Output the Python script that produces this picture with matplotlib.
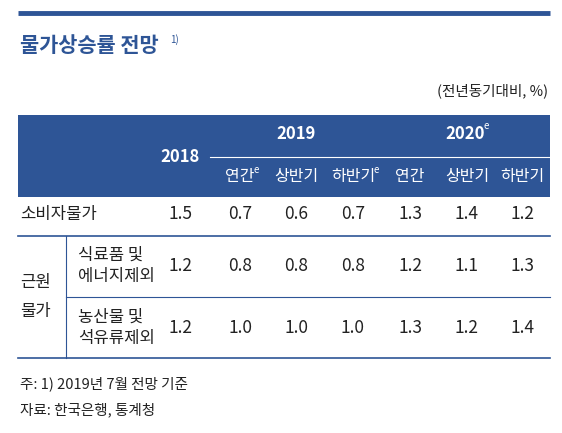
import matplotlib
matplotlib.use("Agg")
import matplotlib.pyplot as plt

plt.rcParams['font.family'] = ['Noto Sans CJK KR', 'DejaVu Sans']

title = "물가상승률 전망"
unit = "(전년동기대비, %)"
years = ["2018", "2019", "2020"]
sub_headers = ["연간", "상반기", "하반기", "연간", "상반기", "하반기"]
sub_est = [True, False, True, False, False, False]
row_labels = ["소비자물가", "식료품 및\n에너지제외", "농산물 및\n석유류제외"]
group_label = "근원\n물가"
values = [
    [1.5, 0.7, 0.6, 0.7, 1.3, 1.4, 1.2],
    [1.2, 0.8, 0.8, 0.8, 1.2, 1.1, 1.3],
    [1.2, 1.0, 1.0, 1.0, 1.3, 1.2, 1.4],
]
notes = ["주: 1) 2019년 7월 전망 기준", "자료: 한국은행, 통계청"]

W, H = 562, 433
fig = plt.figure(figsize=(W/100, H/100), dpi=100)
ax = fig.add_axes([0, 0, 1, 1])
ax.set_xlim(0, W); ax.set_ylim(H, 0); ax.axis('off')
blue = '#2E5596'
txt = '#222222'

ax.plot([18, 550], [13, 13], color=blue, lw=3.5, solid_capstyle='butt')
ax.text(20, 46, title, fontsize=15, color=blue, fontweight='bold', va='center')
ax.text(170, 40, "1)", fontsize=7, color=blue, va='center')
ax.text(548, 91, unit, fontsize=10.5, color=txt, ha='right', va='center')

ax.add_patch(plt.Rectangle((18, 115), 532, 82, color=blue, lw=0))
ax.plot([210, 550], [157, 157], color='white', lw=0.8)
colx = [180, 240, 296, 353, 410, 467, 522]
ax.text(colx[0], 157, years[0], fontsize=12, color='white', ha='center', va='center', fontweight='bold')
ax.text(296, 134, years[1], fontsize=12, color='white', ha='center', va='center', fontweight='bold')
ax.text(465, 134, years[2], fontsize=12, color='white', ha='center', va='center', fontweight='bold')
ax.text(484, 126, "e", fontsize=7, color='white', va='center', style='italic')
for i, s in enumerate(sub_headers):
    x = colx[i+1]
    ax.text(x, 177, s, fontsize=11.5, color='white', ha='center', va='center')
    if sub_est[i]:
        ax.text(x + (14 if len(s) == 2 else 21), 170, "e", fontsize=7, color='white', va='center', style='italic')

rows_y = [214, 266, 328]
ax.text(20, rows_y[0], row_labels[0], fontsize=12, color=txt, va='center')
ax.text(20, 297, group_label, fontsize=12, color=txt, va='center', linespacing=1.9)
for r in (1, 2):
    ax.text(78, rows_y[r], row_labels[r], fontsize=12, color=txt, va='center', linespacing=1.3)
for r, vals in enumerate(values):
    for j, v in enumerate(vals):
        ax.text(colx[j], rows_y[r], f"{v:.1f}", fontsize=12.5, color=txt, ha='center', va='center')

ax.plot([18, 550], [236, 236], color=blue, lw=1.2)
ax.plot([66, 550], [297, 297], color=blue, lw=0.8)
ax.plot([66, 66], [236, 358], color=blue, lw=0.8)
ax.plot([18, 550], [358, 358], color=blue, lw=1.2)

ax.text(20, 384, notes[0], fontsize=10.5, color=txt, va='center')
ax.text(20, 410, notes[1], fontsize=10.5, color=txt, va='center')

fig.savefig("out.png", dpi=100)
